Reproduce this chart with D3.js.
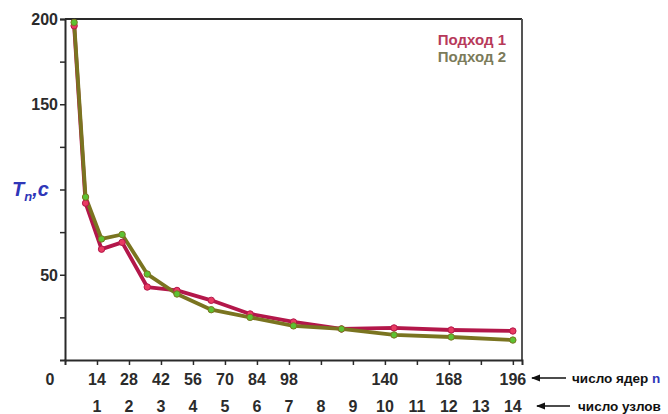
<!DOCTYPE html>
<html><head><meta charset="utf-8">
<script src="https://cdn.jsdelivr.net/npm/d3@7"></script>
<style>body{margin:0;background:#fff;}svg{display:block;font-family:"Liberation Sans",Arial,sans-serif;}</style>
</head><body><svg id="c" width="668" height="414"></svg>
<script>
const cores = [4, 9, 16, 25, 36, 49, 64, 81, 100, 121, 144, 169, 196];
const approach1 = [196, 92, 65, 69, 42.8, 40.8, 35, 27, 22.3, 18.2, 18.8, 17.6, 17];
const approach2 = [198, 95.6, 71, 73.6, 50.4, 38.7, 29.5, 25, 20, 18.2, 14.7, 13.5, 11.7];
const xTicks = [14, 28, 42, 56, 70, 84, 98, 112, 126, 140, 154, 168, 182, 196];
const xTickLabels = {14:"14",28:"28",42:"42",56:"56",70:"70",84:"84",98:"98",140:"140",168:"168",196:"196"};
const nodeLabels = ["1","2","3","4","5","6","7","8","9","10","11","12","13","14"];
const yTicks = [25, 50, 75, 100, 125, 150, 175, 200];
const yTickLabels = {50:"50",150:"150",200:"200"};
const seriesNames = ["Подход 1", "Подход 2"];

const svg = d3.select("#c");
const L = 65, R = 522, T = 19, B = 360;
const x = d3.scaleLinear().domain([0, 200]).range([L, R]);
const y = d3.scaleLinear().domain([0, 200]).range([B, T]);
const axisCol = "#2a2a2a";

// frame top/right
svg.append("line").attr("x1", L).attr("x2", R).attr("y1", T).attr("y2", T).attr("stroke", axisCol).attr("stroke-width", 2);
svg.append("line").attr("x1", R).attr("x2", R).attr("y1", T).attr("y2", B).attr("stroke", "#555").attr("stroke-width", 2);

// axes
const xa = svg.append("g").attr("transform", `translate(0,${B})`)
  .call(d3.axisBottom(x).tickValues(xTicks).tickSize(5).tickFormat(""));
const ya = svg.append("g").attr("transform", `translate(${L},0)`)
  .call(d3.axisLeft(y).tickValues(yTicks).tickSize(5).tickFormat(""));
[xa, ya].forEach(g => {
  g.select(".domain").attr("stroke", axisCol).attr("stroke-width", 2);
  g.selectAll(".tick line").attr("stroke", axisCol).attr("stroke-width", 1.5);
});

const lab = {"font-size": "16px", "font-weight": "bold", "fill": "#2b2b2b"};
function styl(s, o){ for (const k in o) s.attr(k, o[k]); return s; }

// y labels
yTicks.filter(v => yTickLabels[v]).forEach(v => {
  styl(svg.append("text"), lab).attr("x", L - 7).attr("y", y(v)).attr("dy", "0.36em")
    .attr("text-anchor", "end").text(yTickLabels[v]);
});
// x labels
xTicks.filter(v => xTickLabels[v]).forEach(v => {
  styl(svg.append("text"), lab).attr("x", x(v)).attr("y", 385).attr("text-anchor", "middle").text(xTickLabels[v]);
});
styl(svg.append("text"), lab).attr("x", 50).attr("y", 385).attr("text-anchor", "middle").text("0");
xTicks.forEach((v, i) => {
  styl(svg.append("text"), lab).attr("x", x(v)).attr("y", 412).attr("text-anchor", "middle").text(nodeLabels[i]);
});

// y title
const yt = svg.append("text").attr("x", 12).attr("y", 196).attr("fill", "#2f36b8")
  .attr("font-weight", "bold").attr("font-style", "italic").attr("font-size", "20px");
yt.append("tspan").text("T");
yt.append("tspan").attr("font-size", "13px").attr("dy", 5).text("n");
yt.append("tspan").attr("dy", -5).text(",c");

// lines
const line = d3.line().x((d, i) => x(cores[i])).y(d => y(d));
const series = [
  {v: approach1, stroke: "#b3174a", fill: "#e83a62"},
  {v: approach2, stroke: "#7a7420", fill: "#5cc232"}
];
series.forEach(s => {
  svg.append("path").datum(s.v).attr("d", line).attr("fill", "none")
    .attr("stroke", s.stroke).attr("stroke-width", 3.8).attr("stroke-linejoin", "round");
});
series.forEach(s => {
  svg.selectAll(null).data(s.v).enter().append("circle")
    .attr("cx", (d, i) => x(cores[i])).attr("cy", d => y(d)).attr("r", 3.2)
    .attr("fill", s.fill).attr("stroke", s.stroke).attr("stroke-width", 1);
});

// legend
const legCols = ["#b7395a", "#7b7b5a"];
seriesNames.forEach((n, i) => {
  svg.append("text").attr("x", 506).attr("y", 45 + i * 17).attr("text-anchor", "end")
    .attr("font-size", "15px").attr("font-weight", "bold").attr("fill", legCols[i]).text(n);
});

// annotations
svg.append("defs").append("marker").attr("id", "ah").attr("viewBox", "0 0 10 10")
  .attr("refX", 9).attr("refY", 5).attr("markerWidth", 7).attr("markerHeight", 7).attr("orient", "auto")
  .append("path").attr("d", "M0,1 L10,5 L0,9 Z").attr("fill", "#111");
function arrow(tipX, tailX, yy){
  svg.append("line").attr("x1", tailX).attr("x2", tipX).attr("y1", yy).attr("y2", yy)
    .attr("stroke", "#111").attr("stroke-width", 1.3).attr("marker-end", "url(#ah)");
}
arrow(532, 566, 378);
arrow(537, 570, 406);
const a1 = svg.append("text").attr("x", 572).attr("y", 383).attr("font-size", "13.5px").attr("font-weight", "bold").attr("fill", "#111");
a1.append("tspan").text("число ядер ");
a1.append("tspan").attr("fill", "#2f36b8").text("n");
svg.append("text").attr("x", 578).attr("y", 411).attr("font-size", "13.5px").attr("font-weight", "bold").attr("fill", "#111").text("число узлов");
</script></body></html>
